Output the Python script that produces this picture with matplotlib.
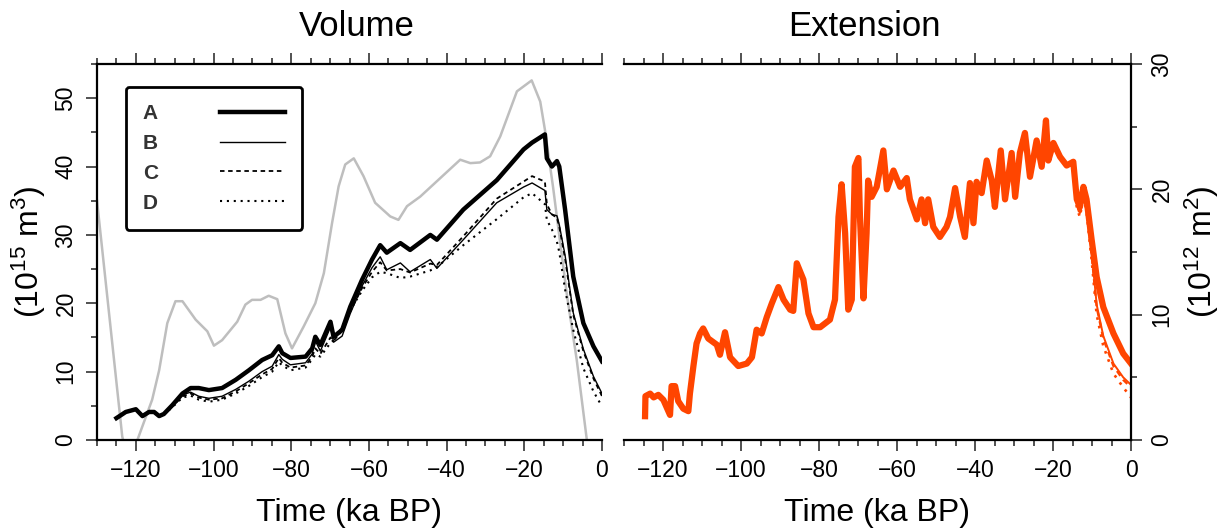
import numpy as np
import matplotlib.pyplot as plt
from matplotlib.ticker import MultipleLocator

plt.rcParams['font.family'] = ['Liberation Sans', 'DejaVu Sans']
plt.rcParams['mathtext.fontset'] = 'custom'
plt.rcParams['mathtext.rm'] = 'Liberation Sans'
plt.rcParams['mathtext.it'] = 'Liberation Sans:italic'

# Volume panel (10^15 m^3), time in ka BP
vol_t = [-125, -122.6, -120, -118.3, -116.6, -115.3, -114, -112.8, -110.6, -108,
         -105.9, -103.8, -101.2, -97.8, -94.3, -90.9, -87.5, -84.9, -83.2, -82.3,
         -80.2, -76.3, -74.6, -73.8, -72.5, -69.9, -69.1, -66.9, -64.8, -61.8,
         -59.2, -57.1, -55.4, -51.9, -49.4, -44.2, -42.5, -35.7, -27.1, -20.2,
         -18, -14.7, -14.2, -12.9, -11.6, -11, -9.5, -7.4, -4.8, -2.2, 0]
vol_a = [3.2, 4.1, 4.5, 3.5, 4.1, 4.1, 3.5, 3.8, 5.1, 6.8,
         7.6, 7.6, 7.3, 7.6, 8.8, 10.2, 11.7, 12.4, 13.7, 12.7,
         12.0, 12.2, 13.4, 15.1, 13.9, 17.3, 15.1, 16.1, 19.5, 23.4,
         26.4, 28.5, 27.4, 28.8, 27.8, 30.0, 29.3, 33.7, 38.0, 42.5,
         43.5, 44.7, 41.2, 40.0, 40.8, 40.0, 33.7, 23.9, 17.1, 13.7, 11.5]
vol_b = [3.2, 4.1, 4.5, 3.5, 4.1, 4.1, 3.5, 3.8, 5.0, 6.6,
         7.0, 6.4, 6.1, 6.4, 7.4, 8.6, 10.0, 10.8, 12.5, 11.8,
         11.0, 11.3, 12.6, 14.5, 13.0, 16.5, 14.3, 15.2, 18.5, 22.5,
         25.2, 26.8, 24.9, 25.9, 24.6, 26.4, 25.1, 29.3, 34.7, 37.0,
         37.6, 36.5, 33.7, 33.0, 32.8, 31.5, 27.0, 18.6, 13.3, 9.3, 6.8]
vol_c = [3.2, 4.1, 4.5, 3.5, 4.1, 4.1, 3.5, 3.8, 4.9, 6.4,
         6.8, 6.2, 5.9, 6.1, 7.1, 8.3, 9.6, 10.4, 12.0, 11.3,
         10.6, 10.9, 12.2, 13.4, 12.6, 15.0, 14.5, 16.0, 18.8, 22.2,
         24.6, 26.0, 24.8, 25.0, 24.5, 25.8, 25.6, 29.8, 35.3, 37.8,
         38.6, 37.8, 34.5, 33.0, 32.5, 31.2, 26.5, 18.3, 13.0, 9.0, 6.4]
vol_d = [3.2, 4.1, 4.5, 3.5, 4.0, 4.0, 3.4, 3.7, 4.8, 6.2,
         6.5, 5.9, 5.6, 5.9, 6.8, 7.9, 9.2, 10.0, 11.4, 10.9,
         10.2, 10.6, 11.8, 12.5, 12.2, 14.2, 14.6, 16.5, 19.0, 21.8,
         23.8, 24.6, 24.4, 23.7, 23.9, 24.8, 25.3, 28.5, 32.3, 35.5,
         36.1, 34.5, 32.2, 30.8, 29.0, 27.5, 22.0, 16.1, 10.5, 7.1, 4.9]

# grey reference curve of the volume panel
gray_t = [-130, -123.5, -121.5, -119.6, -115.8, -114, -111.9, -109.8, -108, -104.6,
          -101.6, -99.9, -97.8, -93.9, -91.8, -90.1, -87.9, -85.8, -83.6, -81.5,
          -79.8, -76.8, -73.8, -71.6, -69.5, -67.8, -66.1, -63.9, -61.4, -58.4,
          -54.5, -52.4, -50.2, -46.8, -36.5, -33.9, -31.4, -28.8, -26.2, -21.9,
          -18.1, -15.9, -14.7, -12.6, -9.1, -6.5, -3.9, 0]
gray_v = [35, 0.5, -4, 0, 5.9, 10.2, 17.1, 20.3, 20.3, 17.6,
          15.9, 13.8, 14.6, 17.3, 19.8, 20.5, 20.5, 21.1, 20.6, 15.6,
          13.4, 16.6, 20.0, 24.4, 31.7, 37.1, 40.3, 41.2, 38.6, 34.7,
          32.7, 32.2, 34.2, 35.6, 41.0, 40.5, 40.6, 41.5, 44.4, 51.0,
          52.6, 49.5, 45.4, 37.0, 21.5, 11.7, 0, -9]

# Extension panel (10^12 m^2)
ext_t = [-124.6, -124.5, -123.3, -122.4, -121.2, -119.9, -118.2, -117.8, -116.9, -116.1,
         -114.8, -113.5, -113.1, -112.2, -111.4, -110.5, -109.7, -108.4, -106.2, -105.4,
         -104.1, -102.8, -100.7, -98.5, -97.2, -96.0, -94.7, -93.4, -92.1, -90.4,
         -89.1, -87.4, -86.6, -85.7, -84.0, -82.7, -81.4, -79.7, -77.2, -75.9,
         -75.0, -74.2, -73.3, -72.5, -71.6, -70.8, -69.9, -69.5, -68.6, -67.8,
         -67.4, -66.5, -65.2, -63.5, -62.6, -60.9, -59.2, -57.5, -56.7, -54.9,
         -53.7, -52.8, -52.0, -50.7, -49.0, -47.3, -46.4, -45.1, -43.8, -42.6,
         -41.3, -40.4, -39.6, -38.3, -37.0, -35.7, -34.9, -33.4, -32.3, -30.6,
         -29.7, -28.5, -27.2, -25.9, -24.2, -22.9, -21.8, -21.2, -19.9, -18.2,
         -16.5, -14.8, -13.9, -13.1, -12.2, -11.4, -10.1, -8.8, -7.1, -4.5,
         -2.0, 0]
ext_a = [1.9, 3.5, 3.7, 3.4, 3.6, 3.2, 2.0, 4.3, 4.3, 3.1,
         2.5, 2.3, 3.7, 5.9, 7.7, 8.5, 8.9, 8.1, 7.6, 6.8,
         8.6, 6.6, 5.9, 6.1, 6.6, 8.8, 8.5, 9.8, 10.9, 12.2,
         11.2, 10.4, 10.3, 14.1, 12.8, 10.1, 9.0, 9.0, 9.6, 11.2,
         17.8, 20.4, 16.5, 10.4, 11.2, 21.8, 22.5, 17.8, 11.3, 16.5,
         20.7, 19.4, 20.2, 23.1, 20.0, 21.5, 20.2, 20.9, 19.2, 17.6,
         19.2, 17.3, 19.2, 17.0, 16.2, 17.0, 17.8, 20.1, 17.8, 16.2,
         20.5, 17.3, 20.6, 19.7, 22.3, 20.7, 18.6, 23.1, 19.2, 22.9,
         19.4, 22.9, 24.5, 21.0, 23.9, 21.8, 25.5, 22.3, 23.7, 22.6,
         21.9, 22.2, 19.2, 18.6, 20.2, 19.2, 16.0, 13.0, 10.6, 8.5,
         6.9, 6.1]
# the other runs only part from A over the last 14 ka
ext_b_tail = [18.8, 18.1, 19.8, 18.6, 15.0, 10.8, 8.3, 6.1, 5.0, 4.4]
ext_c_tail = [18.8, 18.0, 19.7, 18.5, 14.8, 10.6, 8.1, 5.9, 4.8, 4.2]
ext_d_tail = [18.5, 17.8, 19.5, 18.2, 14.4, 10.0, 7.5, 5.3, 4.2, 3.4]
n_tail = len(ext_b_tail)
ext_b = ext_a[:-n_tail] + ext_b_tail
ext_c = ext_a[:-n_tail] + ext_c_tail
ext_d = ext_a[:-n_tail] + ext_d_tail

labels = ['A', 'B', 'C', 'D']
styles = [dict(lw=3.2, ls='-'), dict(lw=1.0, ls='-'),
          dict(lw=1.3, ls=(0, (2.5, 2))), dict(lw=1.5, ls=(0, (1, 2.3)))]
orange = '#FF4500'

fig = plt.figure(figsize=(12.26, 5.29), dpi=100)
ax1 = fig.add_axes([97 / 1226, 89 / 529, 505 / 1226, 376 / 529])
ax2 = fig.add_axes([624 / 1226, 89 / 529, 507 / 1226, 376 / 529])

# Volume
ax1.plot(gray_t, gray_v, color='#BEBEBE', lw=1.8)
handles = []
for vals, lab, st in zip([vol_a, vol_b, vol_c, vol_d], labels, styles):
    h, = ax1.plot(vol_t, vals, color='black', label=lab, **st)
    handles.append(h)

# Extension
for vals, st in zip([ext_d, ext_c, ext_b, ext_a], styles[::-1]):
    lw = st['lw'] + 1.3 if st['lw'] > 3 else st['lw'] + 0.4
    ax2.plot(ext_t, vals, color=orange, lw=lw, ls=st['ls'])

leg = ax1.legend(handles=handles, loc='upper left', bbox_to_anchor=(0.057, 0.939),
                 borderaxespad=0, markerfirst=False, handlelength=3.1,
                 handletextpad=3.0, labelspacing=0.52, borderpad=0.82,
                 prop={'weight': 'bold', 'size': 15}, fancybox=True,
                 framealpha=1, edgecolor='black', labelcolor='#333333')
leg.get_frame().set_linewidth(2)
leg.get_frame().set_boxstyle('round,pad=0,rounding_size=0.15')

for ax, ymax, side in [(ax1, 55, 'left'), (ax2, 30, 'right')]:
    ax.set_xlim(-130, 0)
    ax.set_ylim(0, ymax)
    ax.xaxis.set_major_locator(MultipleLocator(20))
    ax.xaxis.set_minor_locator(MultipleLocator(5))
    ax.yaxis.set_major_locator(MultipleLocator(10))
    ax.yaxis.set_minor_locator(MultipleLocator(5))
    other = 'right' if side == 'left' else 'left'
    ax.spines[other].set_visible(False)
    for s in ['top', 'bottom', side]:
        ax.spines[s].set_linewidth(1.6)
    if side == 'right':
        ax.yaxis.tick_right()
        ax.yaxis.set_label_position('right')
    ax.tick_params(which='both', direction='out', width=1.1, color='#222222',
                   top=True, bottom=True, labeltop=False, labelsize=16.5, pad=6)
    ax.tick_params(which='major', length=8)
    ax.tick_params(which='minor', length=4)
    ax.tick_params(axis='y', labelrotation=90)
    for lab in ax.get_yticklabels():
        lab.set_va('center')
    ax.set_xlabel('Time (ka BP)', fontsize=23)
    ax.xaxis.set_label_coords(0.5, -0.155)

ax1.set_ylabel('(10$^{15}$ m$^3$)', fontsize=23)
ax1.yaxis.set_label_coords(-0.097, 0.5)
ax2.set_ylabel('(10$^{12}$ m$^2$)', fontsize=23)
ax2.yaxis.set_label_coords(1.102, 0.5)

ax1.set_title('Volume', fontsize=25, x=0.515, y=1.074, pad=0)
ax2.set_title('Extension', fontsize=25, x=0.475, y=1.074, pad=0)

plt.savefig('out.png', dpi=100)
